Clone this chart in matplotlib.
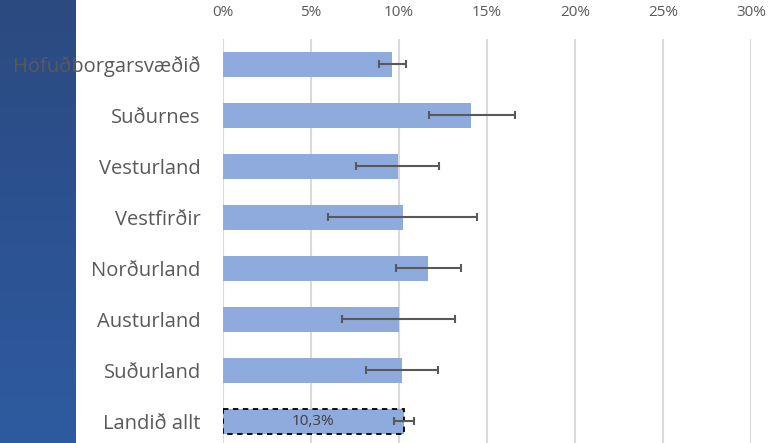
import numpy as np
import matplotlib
matplotlib.use("Agg")
import matplotlib.pyplot as plt
from matplotlib.colors import LinearSegmentedColormap
from matplotlib.ticker import PercentFormatter

# gögn (lesin af myndinni)
svaedi = ["Höfuðborgarsvæðið", "Suðurnes", "Vesturland", "Vestfirðir",
          "Norðurland", "Austurland", "Suðurland", "Landið allt"]
hlutfall = [0.0962, 0.1410, 0.0994, 0.1020, 0.1165, 0.0998, 0.1015, 0.1028]
neðri_mork = [0.0888, 0.1169, 0.0757, 0.0595, 0.0985, 0.0676, 0.0814, 0.0972]
efri_mork = [0.1038, 0.1657, 0.1225, 0.1443, 0.1352, 0.1318, 0.1222, 0.1087]
merki_alls = "10,3%"
x_ticks = [0, 0.05, 0.10, 0.15, 0.20, 0.25, 0.30]

plt.rcParams["font.family"] = ["Open Sans", "DejaVu Sans"]

fig = plt.figure(figsize=(7.69, 4.43), dpi=100)

# dökkblái borðinn vinstra megin
bg = fig.add_axes([0, 0, 76 / 769, 1], zorder=0)
cmap = LinearSegmentedColormap.from_list("borði", ["#2b4a80", "#2c5291", "#2e5ba0"])
bg.imshow(np.linspace(0, 1, 100).reshape(-1, 1), aspect="auto", cmap=cmap,
          extent=[0, 1, 0, 1], origin="upper")
bg.axis("off")

ax = fig.add_axes([223 / 769, -3.5 / 443, 528 / 769, 407.5 / 443], zorder=1)
ax.patch.set_alpha(0)

y = np.arange(len(svaedi))
villa = [np.array(hlutfall) - np.array(neðri_mork),
         np.array(efri_mork) - np.array(hlutfall)]

bars = ax.barh(y, hlutfall, height=0.49, color="#8faadc", zorder=2)
ax.errorbar(hlutfall, y, xerr=villa, fmt="none", ecolor="#595959",
            elinewidth=1.5, capsize=3, capthick=1.5, zorder=3)

# heildin með brotinni línu
bars[-1].set_edgecolor("black")
bars[-1].set_linestyle((0, (3, 2.5)))
bars[-1].set_linewidth(1.3)
ax.text(hlutfall[-1] / 2, y[-1], merki_alls, ha="center", va="center",
        fontsize=11, color="#404040", zorder=4)

ax.set_xlim(0, 0.30)
ax.set_ylim(len(svaedi) - 0.5, -0.5)
ax.set_xticks(x_ticks)
ax.xaxis.set_major_formatter(PercentFormatter(1.0, decimals=0))
ax.xaxis.tick_top()
ax.tick_params(axis="x", length=0, pad=14, labelsize=11, labelcolor="#595959")
ax.set_yticks(y)
ax.set_yticklabels(svaedi)
ax.tick_params(axis="y", length=0, pad=16, labelsize=14.5, labelcolor="#595959")
ax.grid(axis="x", color="#d9d9d9", linewidth=1.5, zorder=0)
ax.set_axisbelow(True)
for s in ax.spines.values():
    s.set_visible(False)

fig.savefig("out.png", dpi=100)
